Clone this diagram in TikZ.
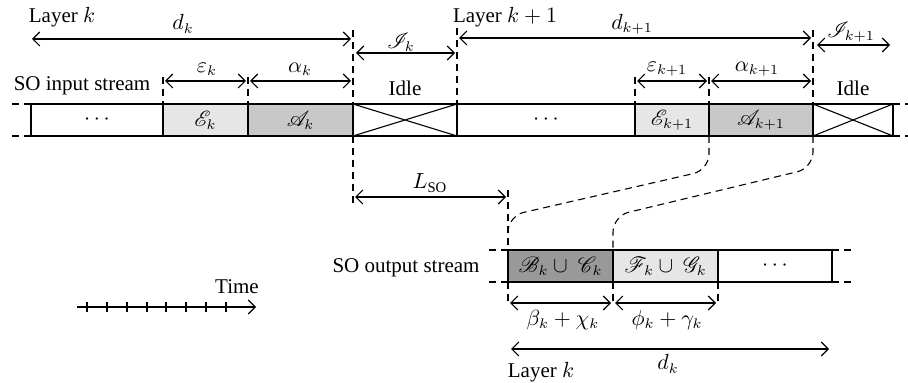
\documentclass[tikz,border=0pt]{standalone}
\usepackage{fontspec}
\setmainfont{Liberation Serif}
\usepackage{mathrsfs}
\usetikzlibrary{arrows.meta,fit}
\definecolor{lightseg}{HTML}{E6E6E6}
\definecolor{midseg}{HTML}{C8C8C8}
\definecolor{darkseg}{HTML}{999999}
\tikzset{
  seg/.style={draw, line width=0.65pt, inner sep=0pt, outer sep=0pt},
  dimline/.style={line width=0.55pt, {Straight Barb[length=3.5pt,width=7pt]}-{Straight Barb[length=3.5pt,width=7pt]}},
  guide/.style={line width=0.55pt, dash pattern=on 3.5pt off 2.5pt},
  lbl/.style={inner sep=0pt, font=\fontsize{10.5}{12}\selectfont},
}
\begin{document}
\begin{tikzpicture}[x=0.5pt,y=-0.5pt]
\useasboundingbox (0,0) rectangle (908,383);
% ---- input stream
\node[seg, fit={(31,104)(163,136)}] (in0) {};
\node[seg, fill=lightseg, fit={(163,104)(248,136)}] (inE) {};
\node[seg, fill=midseg, fit={(248,104)(353,136)}] (inA) {};
\node[seg, fit={(353,104)(457,136)}] (idle1) {};
\node[seg, fit={(457,104)(635,136)}] (in1) {};
\node[seg, fill=lightseg, fit={(635,104)(709,136)}] (inE1) {};
\node[seg, fill=midseg, fit={(709,104)(813,136)}] (inA1) {};
\node[seg, fit={(813,104)(893,136)}] (idle2) {};
\draw[line width=0.55pt] (idle1.north west) -- (idle1.south east) (idle1.south west) -- (idle1.north east);
\draw[line width=0.55pt] (idle2.north west) -- (idle2.south east) (idle2.south west) -- (idle2.north east);
\draw[guide] (in0.north west) -- ++(-23,0) (in0.south west) -- ++(-23,0);
\draw[guide] (idle2.north east) -- ++(15,0) (idle2.south east) -- ++(15,0);
\node[lbl] at (in0.center) {$\cdots$};
\node[lbl] at (inE.center) {$\mathscr{E}_k$};
\node[lbl] at (inA.center) {$\mathscr{A}_k$};
\node[lbl] at (in1.center) {$\cdots$};
\node[lbl] at (inE1.center) {$\mathscr{E}_{k+1}$};
\node[lbl] at (inA1.center) {$\mathscr{A}_{k+1}$};
% ---- output stream
\node[seg, fill=darkseg, fit={(508,250)(613,282)}] (outB) {};
\node[seg, fill=lightseg, fit={(613,250)(718,282)}] (outF) {};
\node[seg, fit={(718,250)(832,282)}] (out2) {};
\draw[guide] (outB.north west) -- ++(-23,0) (outB.south west) -- ++(-23,0);
\draw[guide] (out2.north east) -- ++(21,0) (out2.south east) -- ++(21,0);
\node[lbl] at (outB.center) {$\mathscr{B}_k\cup\ \mathscr{C}_k$};
\node[lbl] at (outF.center) {$\mathscr{F}_k\cup\ \mathscr{G}_k$};
\node[lbl] at (out2.center) {$\cdots$};
% ---- guide lines (dashed)
\draw[guide] (inA.south east) -- (353,205);
\draw[guide] (353,30) -- (inA.north east);
\draw[guide] (457,28) -- (idle1.north east);
\draw[guide] (163,77) -- (inE.north west);
\draw[guide] (248,77) -- (inE.north east);
\draw[guide] (635,77) -- (inE1.north west);
\draw[guide] (709,77) -- (inE1.north east);
\draw[guide] (813,30) -- (inA1.north east);
\draw[guide] (508,190) -- (outB.north west);
\draw[guide, rounded corners=8pt] (inE1.south east) -- (709,170) -- (508,216) -- (outB.north west);
\draw[guide, rounded corners=8pt] (inA1.south east) -- (813,168) -- (613,216) -- (outF.north west);
\draw[guide] (outB.south west) -- ++(0,23);
\draw[guide] (outF.south west) -- ++(0,23);
\draw[guide] (outF.south east) -- ++(0,23);
% ---- dimension arrows
\draw[dimline] (32,39) -- (351,39);
\draw[dimline] (356,53) -- (455,53);
\draw[dimline] (165,81) -- (246,81);
\draw[dimline] (250,81) -- (351,81);
\draw[dimline] (459,38) -- (811,38);
\draw[dimline] (637,81) -- (707,81);
\draw[dimline] (711,81) -- (811,81);
\draw[dimline] (817,45) -- (890,45);
\draw[dimline] (355,197) -- (506,197);
\draw[dimline] (510,303) -- (611,303);
\draw[dimline] (615,303) -- (716,303);
\draw[dimline] (511,349) -- (829,349);
% ---- labels
\node[lbl] at (62,17) {Layer $k$};
\node[lbl] at (183,24) {$d_k$};
\node[lbl] at (401,42) {$\mathscr{I}_k$};
\node[lbl] at (505,17) {Layer $k+1$};
\node[lbl] at (632,24) {$d_{k+1}$};
\node[lbl] at (851,32) {$\mathscr{I}_{k+1}$};
\node[lbl] at (82,86) {SO input stream};
\node[lbl] at (207,69) {$\varepsilon_k$};
\node[lbl] at (300,69) {$\alpha_k$};
\node[lbl] at (667,69) {$\varepsilon_{k+1}$};
\node[lbl] at (757,69) {$\alpha_{k+1}$};
\node[lbl] at (405,88) {Idle};
\node[lbl] at (853,88) {Idle};
\node[lbl] at (430,183) {$L_{\mathrm{SO}}$};
\node[lbl] at (406,268) {SO output stream};
\node[lbl] at (563,320) {$\beta_k+\chi_k$};
\node[lbl] at (667,320) {$\phi_k+\gamma_k$};
\node[lbl] at (668,364) {$d_k$};
\node[lbl] at (541,372) {Layer $k$};
% ---- time axis
\coordinate (t0) at (77,307);
\coordinate (t1) at (256,307);
\draw[line width=0.55pt, -{Straight Barb[length=3.5pt,width=7pt]}] (t0) -- (t1);
\foreach \x in {87,107,127,147,166,186,206,226} \draw[line width=0.55pt] (\x,302) -- (\x,312);
\node[lbl] at (237,287) {Time};
\end{tikzpicture}
\end{document}
